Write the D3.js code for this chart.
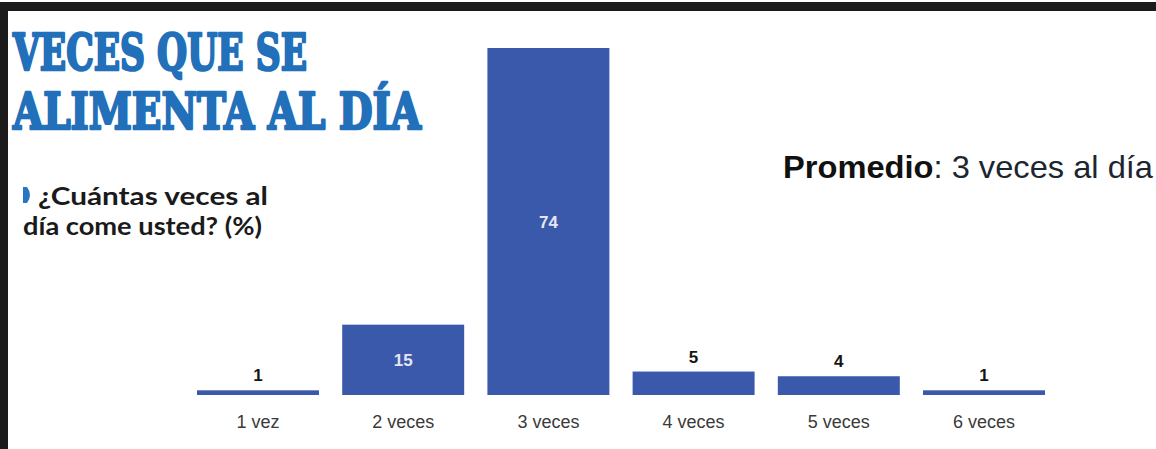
<!DOCTYPE html>
<html>
<head>
<meta charset="utf-8">
<script src="https://cdn.jsdelivr.net/npm/d3@7"></script>
<style>
  html, body { margin: 0; padding: 0; background: #ffffff; }
  svg { display: block; }
</style>
</head>
<body>
<script>
// ---- data ----
const categories = ["1 vez", "2 veces", "3 veces", "4 veces", "5 veces", "6 veces"];
const values = [1, 15, 74, 5, 4, 1];
const titleLines = ["VECES QUE SE", "ALIMENTA AL DÍA"];
const subtitleLines = ["¿Cuántas veces al", "día come usted? (%)"];
const averageLabel = "Promedio";
const averageText = ": 3 veces al día";

const W = 1156, H = 449;
const svg = d3.select("body").append("svg").attr("width", W).attr("height", H);

svg.append("rect").attr("width", W).attr("height", H).attr("fill", "#ffffff");

// frame
svg.append("rect").attr("x", 0).attr("y", 2).attr("width", W).attr("height", 9).attr("fill", "#1b1b1b");
svg.append("rect").attr("x", 0).attr("y", 2).attr("width", 8).attr("height", H).attr("fill", "#1b1b1b");

// title
const titleColor = "#2170b9";
const titleLen = [294, 408];
titleLines.forEach((t, i) => {
  svg.append("text")
    .attr("x", 13).attr("y", 70 + i * 59)
    .attr("font-family", "DejaVu Serif")
    .attr("font-weight", "bold")
    .attr("font-size", 50)
    .attr("fill", titleColor)
    .attr("stroke", titleColor)
    .attr("stroke-width", 2.6)
    .attr("stroke-linejoin", "round")
    .attr("textLength", titleLen[i])
    .attr("lengthAdjust", "spacingAndGlyphs")
    .text(t);
});

// subtitle marker
svg.append("path")
  .attr("d", "M23,187 L27,187 Q33,195 27,203 L23,203 Z")
  .attr("fill", "#2a74c4");

const subX = [38, 23], subY = [205, 235], subLen = [230, 239];
subtitleLines.forEach((t, i) => {
  svg.append("text")
    .attr("x", subX[i]).attr("y", subY[i])
    .attr("font-family", "Lato")
    .attr("font-weight", 700)
    .attr("font-size", 24)
    .attr("fill", "#1a1a1a")
    .attr("textLength", subLen[i])
    .attr("lengthAdjust", "spacingAndGlyphs")
    .text(t);
});

// average
const avg = svg.append("text")
  .attr("x", 783).attr("y", 178)
  .attr("font-family", "Liberation Sans, Arial, sans-serif")
  .attr("font-size", 32)
  .attr("textLength", 370)
  .attr("lengthAdjust", "spacingAndGlyphs");
avg.append("tspan").attr("font-weight", "bold").attr("fill", "#111111").text(averageLabel);
avg.append("tspan").attr("fill", "#1c2630").text(averageText);

// scales
const x = d3.scaleBand().domain(categories).range([197, 1045]).paddingInner(0.16).paddingOuter(0);
const y = d3.scaleLinear().domain([0, 74]).range([395, 48]);

const barColor = "#3a59aa";

const g = svg.append("g");
g.selectAll("rect.bar")
  .data(values)
  .join("rect")
  .attr("class", "bar")
  .attr("x", (d, i) => x(categories[i]))
  .attr("y", d => y(d))
  .attr("width", x.bandwidth())
  .attr("height", d => y(0) - y(d))
  .attr("fill", barColor);

// value labels
g.selectAll("text.val")
  .data(values)
  .join("text")
  .attr("class", "val")
  .attr("x", (d, i) => x(categories[i]) + x.bandwidth() / 2)
  .attr("y", d => d >= 10 ? (y(d) + y(0)) / 2 + 6 : y(d) - 9)
  .attr("text-anchor", "middle")
  .attr("font-family", "Liberation Sans, Arial, sans-serif")
  .attr("font-weight", "bold")
  .attr("font-size", 17)
  .attr("fill", d => d >= 10 ? "#e6e6f2" : "#151515")
  .text(d => d);

// category axis (no line, no ticks)
const axis = d3.axisBottom(x).tickSize(0).tickPadding(0);
const ax = svg.append("g").attr("transform", "translate(0,395)").call(axis);
ax.select(".domain").remove();
ax.selectAll("text")
  .attr("y", 33)
  .attr("dy", 0)
  .attr("font-family", "Liberation Sans, Arial, sans-serif")
  .attr("font-size", 18)
  .attr("fill", "#3a3a3a");
</script>
</body>
</html>
